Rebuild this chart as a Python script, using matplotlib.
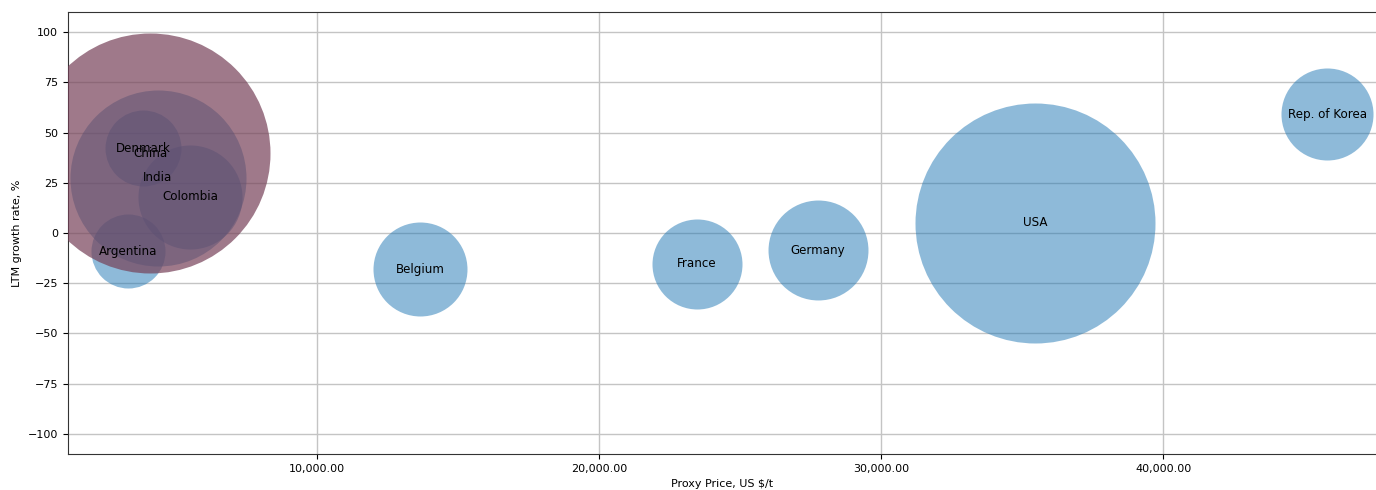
"""
Bubble chart: proxy price vs LTM growth rate, bubble area = trade volume.
"""

from matplotlib import pyplot as plt
from matplotlib.ticker import FuncFormatter

# data
countries = ["Argentina", "Denmark", "India", "Colombia", "Belgium",
             "France", "Germany", "USA", "Rep. of Korea", "China"]
proxy_price = [3300, 3830, 4360, 5500, 13650, 23480, 27770, 35460, 45820, 4080]
growth_rate = [-9.0, 42.3, 27.4, 18.0, -18.0, -15.4, -8.5, 5.0, 59.2, 39.8]
volume = [2840, 2990, 16060, 5610, 4580, 4200, 5180, 29860, 4390, 29860]

HIGHLIGHT = "China"
BLUE = "#1f77b4"
MAUVE = "#764158"

plt.rcParams['font.family'] = ['DejaVu Sans']
plt.rcParams['font.size'] = 8

fig = plt.figure(figsize=(13.76, 4.90), dpi=100)
ax = fig.add_axes([0.0494, 0.0735, 0.9506, 0.902])

# plain countries first, the highlighted one on top
for name, x, y, v in zip(countries, proxy_price, growth_rate, volume):
    if name == HIGHLIGHT:
        continue
    ax.scatter(x, y, s=v, color=BLUE, alpha=0.5, linewidths=0, zorder=2)
for name, x, y, v in zip(countries, proxy_price, growth_rate, volume):
    if name == HIGHLIGHT:
        ax.scatter(x, y, s=v, color=MAUVE, alpha=0.7, linewidths=0, zorder=3)

for name, x, y in zip(countries, proxy_price, growth_rate):
    ax.text(x, y, name, ha="center", va="center", fontsize=8.6, zorder=4)

ax.set_xlim(1170, 47550)
ax.set_ylim(-110, 110)
ax.set_xticks([10000, 20000, 30000, 40000])
ax.set_yticks([-100, -75, -50, -25, 0, 25, 50, 75, 100])
ax.xaxis.set_major_formatter(FuncFormatter(lambda v, p: f"{v:,.2f}"))

ax.grid(True, color="#c4c4c4", linewidth=1.0, zorder=0)
ax.set_axisbelow(True)
ax.spines["right"].set_visible(False)
for side in ("left", "top", "bottom"):
    ax.spines[side].set_color("#333333")

ax.set_xlabel("Proxy Price, US $/t", fontsize=8)
ax.set_ylabel("LTM growth rate, %", fontsize=8)

fig.savefig("out.png", dpi=100)
